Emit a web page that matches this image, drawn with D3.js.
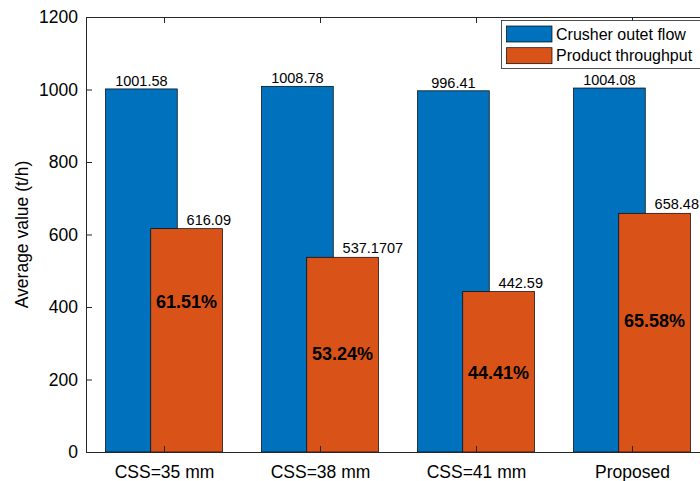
<!DOCTYPE html>
<html>
<head>
<meta charset="utf-8">
<script src="https://cdn.jsdelivr.net/npm/d3@7"></script>
<style>
  body { margin: 0; background: white; }
  svg { display: block; overflow: hidden; font-family: "Liberation Sans", Arial, sans-serif; }
</style>
</head>
<body>
<div id="container"></div>
<script>
let w = 700;
let h = 481;

// DATA
let categories = ["CSS=35 mm", "CSS=38 mm", "CSS=41 mm", "Proposed"];
let crusherFlow = [1001.58, 1008.78, 996.41, 1004.08];
let throughput = [616.09, 537.1707, 442.59, 658.48];
let flowLabels = ["1001.58", "1008.78", "996.41", "1004.08"];
let throughLabels = ["616.09", "537.1707", "442.59", "658.48"];
let pctLabels = ["61.51%", "53.24%", "44.41%", "65.58%"];
// where the percentage text sits, in data units
let pctAnchor = [414, 272, 218, 362];
let seriesNames = ["Crusher outet flow", "Product throughput"];
let yTicks = [0, 200, 400, 600, 800, 1000, 1200];

let colors = ["#0072BD", "#D95319"];
let axisColor = "#262626";

// SVG
let viz = d3.select("#container").append("svg")
    .attr("width", w)
    .attr("height", h);

// SCALES - plot box runs past the right edge of the picture
let xScale = d3.scaleLinear().domain([0.5, 4.5]).range([86, 710]);
let yScale = d3.scaleLinear().domain([0, 1200]).range([452, 17]);

let barW = 0.46;
let off = 0.145;

// BARS
let groups = viz.selectAll(".grp").data(categories).enter()
  .append("g")
    .attr("class", "grp");

groups.append("rect")
    .attr("x", function(d, i){ return xScale(i + 1 - off - barW / 2); })
    .attr("y", function(d, i){ return yScale(crusherFlow[i]); })
    .attr("width", xScale(barW) - xScale(0))
    .attr("height", function(d, i){ return yScale(0) - yScale(crusherFlow[i]); })
    .attr("fill", colors[0])
    .attr("stroke", "#000")
    .attr("stroke-width", 0.7);

groups.append("rect")
    .attr("x", function(d, i){ return xScale(i + 1 + off - barW / 2); })
    .attr("y", function(d, i){ return yScale(throughput[i]); })
    .attr("width", xScale(barW) - xScale(0))
    .attr("height", function(d, i){ return yScale(0) - yScale(throughput[i]); })
    .attr("fill", colors[1])
    .attr("stroke", "#000")
    .attr("stroke-width", 0.7);

// VALUE LABELS
groups.append("text")
    .text(function(d, i){ return flowLabels[i]; })
    .attr("x", function(d, i){ return xScale(i + 1 - off); })
    .attr("y", function(d, i){ return yScale(crusherFlow[i]) - 3; })
    .attr("text-anchor", "middle")
    .style("font-size", "14.5px")
    .attr("fill", "#000");

groups.append("text")
    .text(function(d, i){ return throughLabels[i]; })
    .attr("x", function(d, i){ return xScale(i + 1 + off); })
    .attr("y", function(d, i){ return yScale(throughput[i]) - 4; })
    .attr("text-anchor", "start")
    .style("font-size", "14.5px")
    .attr("fill", "#000");

groups.append("text")
    .text(function(d, i){ return pctLabels[i]; })
    .attr("x", function(d, i){ return xScale(i + 1 + off); })
    .attr("y", function(d, i){ return yScale(pctAnchor[i]); })
    .attr("dy", "0.36em")
    .attr("text-anchor", "middle")
    .style("font-size", "18px")
    .style("font-weight", "bold")
    .attr("fill", "#000");

// AXES
let yAxis = d3.axisLeft(yScale).tickValues(yTicks).tickFormat(d3.format("d"))
    .tickSizeInner(-6).tickSizeOuter(0).tickPadding(8);
let yG = viz.append("g").attr("transform", "translate(86,0)").call(yAxis);

let xAxis = d3.axisBottom(xScale).tickValues([1, 2, 3, 4])
    .tickFormat(function(d){ return categories[d - 1]; })
    .tickSizeInner(-6).tickSizeOuter(0).tickPadding(14);
let xG = viz.append("g").attr("transform", "translate(0,452)").call(xAxis);

let topAxis = d3.axisTop(xScale).tickValues([1, 2, 3, 4]).tickFormat("")
    .tickSizeInner(-6).tickSizeOuter(0);
let tG = viz.append("g").attr("transform", "translate(0,17)").call(topAxis);

[yG, xG, tG].forEach(function(g){
  g.select(".domain").attr("stroke", axisColor).attr("stroke-width", 1);
  g.selectAll(".tick line").attr("stroke", axisColor);
  g.selectAll(".tick text")
    .attr("fill", "#000")
    .style("font-size", "17.5px")
    .style("font-family", "'Liberation Sans', Arial, sans-serif");
});

// Y TITLE
viz.append("text")
    .text("Average value (t/h)")
    .attr("transform", "translate(28," + ((17 + 452) / 2) + ") rotate(-90)")
    .attr("text-anchor", "middle")
    .style("font-size", "17.5px")
    .attr("fill", "#000");

// LEGEND
let legend = viz.append("g").attr("transform", "translate(501.5,20.5)");
legend.append("rect")
    .attr("width", 230).attr("height", 48)
    .attr("fill", "white")
    .attr("stroke", axisColor)
    .attr("stroke-width", 0.8);

seriesNames.forEach(function(name, i){
  legend.append("rect")
    .attr("x", 5).attr("y", 5.5 + i * 21.7)
    .attr("width", 45.5).attr("height", 16)
    .attr("fill", colors[i])
    .attr("stroke", "#000")
    .attr("stroke-width", 0.7);
  legend.append("text")
    .text(name)
    .attr("x", 54.5).attr("y", 19.2 + i * 21.7)
    .style("font-size", "16px")
    .attr("fill", "#000");
});
</script>
</body>
</html>
